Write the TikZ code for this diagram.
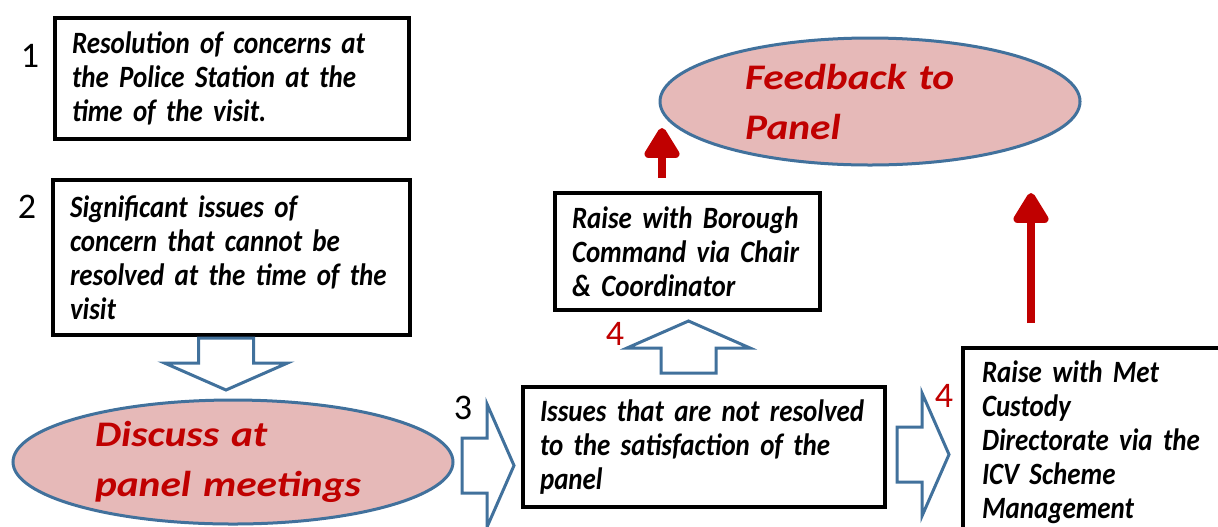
\documentclass[tikz,border=0pt]{standalone}
\usepackage{fontspec}
\setmainfont{Carlito}
\newfontfamily\boxfont[FakeStretch=0.87]{Carlito}
\newfontfamily\ovalfont[FakeStretch=1.15]{Carlito}
\usetikzlibrary{positioning}
\usetikzlibrary{shapes.geometric}
\usetikzlibrary{arrows.meta}
\definecolor{panelred}{HTML}{C00000}
\definecolor{ovalfill}{HTML}{E6B9B8}
\definecolor{ovalline}{HTML}{41719C}
\tikzset{
	stagebox/.style={draw=black, line width=2pt, fill=white, outer sep=0pt, anchor=north west, align=left, inner xsep=8.5pt, inner ysep=2pt, font=\boxfont\bfseries\itshape\fontsize{15.5}{17}\selectfont},
	paneloval/.style={ellipse, draw=ovalline, line width=1.5pt, fill=ovalfill, inner sep=0pt, align=left, text=panelred, font=\ovalfont\bfseries\itshape\fontsize{18}{25}\selectfont},
	stepno/.style={inner sep=0pt, font=\fontsize{18}{18}\selectfont},
	feedarrow/.style={draw=panelred, line width=4pt, -{Triangle[width=19.5pt,length=17pt,round]}},
	blockline/.style={draw=ovalline, line width=1.5pt, fill=white, line join=miter},
	blockarrow/.pic={\draw[blockline] (0,-27.5) -- (25,-27.5) -- (25,-61.5) -- (52,0) -- (25,61.5) -- (25,27.5) -- (0,27.5) -- cycle;},
}
\begin{document}
\begin{tikzpicture}[x=0.5pt, y=-0.5pt]
		\useasboundingbox (0,0) rectangle (1218,526);
		\clip (0,0) rectangle (1218,526);
		\fill[white] (0,0) rectangle (1218,526);
		% boxes
		\node[stagebox, text width=160pt, minimum height=60.5pt] (resolve) at (55,18) {Resolution of concerns at\\the Police Station at the\\time of the visit.};
		\node[stagebox, text width=161.5pt, minimum height=77.5pt] (significant) at (53,180) {Significant issues of\\concern that cannot be\\resolved at the time of the\\visit};
		\node[stagebox, text width=164pt, minimum height=60pt] (unresolved) at (523,387) {Issues that are not resolved\\to the satisfaction of the\\panel};
		\node[stagebox, text width=115.5pt, minimum height=58.5pt] (borough) at (555,193) {Raise with Borough\\Command via Chair\\\& Coordinator};
		\node[stagebox, text width=120pt, inner xsep=9.5pt, inner ysep=6.6pt] (custody) at (963,348) {Raise with Met\\Custody\\Directorate via the\\ICV Scheme\\Management};
		% ovals
		\node[paneloval, minimum width=220pt, minimum height=62pt, text width=138pt] (discuss) at (233,462) {Discuss at\\panel meetings};
		\node[paneloval, minimum width=210pt, minimum height=63.5pt, text width=125pt] (feedback) at (870,101.5) {Feedback to\\Panel};
		% step numbers
		\node[stepno] (no1) at (30,56) {1};
		\node[stepno] (no2) at (27,207) {2};
		\node[stepno] (no3) at (463,408) {3};
		\node[stepno, text=panelred] (no4a) at (615,334) {4};
		\node[stepno, text=panelred] (no4b) at (944,396) {4};
		% block arrows
		\pic[rotate=-90] at (226,338) {blockarrow};
		\pic at (462,465.5) {blockarrow};
		\pic at (897,454.5) {blockarrow};
		\pic[rotate=90] at (688.5,373) {blockarrow};
		% feedback arrows
		\coordinate (boroughtip) at (662,128);
		\coordinate (custodytip) at (1031,193);
		\draw[feedarrow, shorten <=7.5pt] (borough.north -| boroughtip) -- (boroughtip);
		\draw[feedarrow, shorten <=12.5pt] (custody.north -| custodytip) -- (custodytip);
	\end{tikzpicture}
\end{document}
